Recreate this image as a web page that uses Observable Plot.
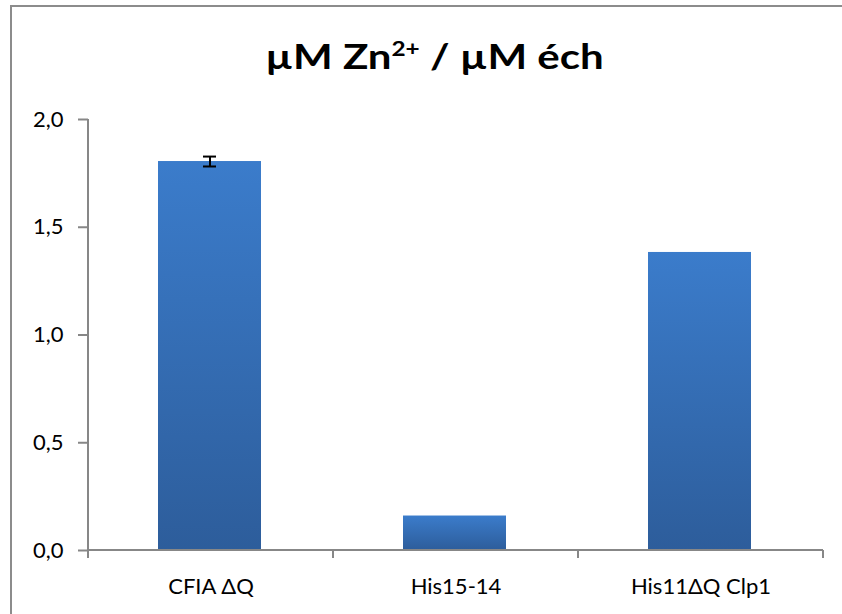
<!DOCTYPE html>
<html><head><meta charset="utf-8">
<script src="https://cdn.jsdelivr.net/npm/d3@7"></script>
<script src="https://cdn.jsdelivr.net/npm/@observablehq/plot@0.6"></script>
<style>
html,body{margin:0;padding:0;background:#fff;overflow:hidden;}
#wrap{position:relative;width:842px;height:614px;overflow:hidden;background:#fff;}
#frame{position:absolute;left:10px;top:5px;width:860px;height:640px;border-top:2px solid #8c8c8c;border-left:2px solid #8c8c8c;border-right:none;border-bottom:none;box-sizing:border-box;}
#title{position:absolute;left:0;width:869px;top:30px;text-align:center;font:bold 35px Lato, sans-serif;color:#000;line-height:50px;transform:scaleX(1.2);transform-origin:434.5px 50%;white-space:nowrap;}
#title sup{font-size:58%;vertical-align:0.62em;line-height:0;}
#chart{position:absolute;left:0;top:0;}
</style></head><body>
<div id="wrap"><div id="frame"></div><div id="chart"></div><div id="title">µM Zn<sup>2+</sup> / µM éch</div></div>
<script>
const categories = ["CFIA ΔQ", "His15-14", "His11ΔQ Clp1"];
const values = [1.805, 0.160, 1.383];
const errors = [0.023, 0, 0];
const yTicks = [0, 0.5, 1.0, 1.5, 2.0];

const data = categories.map((c, i) => ({cat: c, v: values[i], e: errors[i]}));
const withErr = data.filter(d => d.e > 0);

const W = 842, H = 614;
const mL = 88, mR = 19, mT = 119, mB = 64;
const axisColor = "#878787";

const boundaryTicks = (index, scales, values, dims) => {
  const g = d3.create("svg:g");
  const x = scales.x, y0 = scales.y(0);
  const bw = x.bandwidth();
  const xs = categories.map(c => x(c)).concat([x(categories[categories.length-1]) + bw]);
  for (const px of xs) {
    g.append("line").attr("x1", px).attr("x2", px).attr("y1", y0).attr("y2", y0 + 8)
      .attr("stroke", axisColor).attr("stroke-width", 2);
  }
  g.append("line").attr("x1", xs[0]).attr("x2", xs[xs.length-1]).attr("y1", y0).attr("y2", y0)
    .attr("stroke", axisColor).attr("stroke-width", 2);
  g.append("line").attr("x1", xs[0]).attr("x2", xs[0]).attr("y1", scales.y(2)).attr("y2", y0 + 8)
    .attr("stroke", axisColor).attr("stroke-width", 2);
  return g.node();
};

const plot = Plot.plot({
  width: W, height: H,
  marginLeft: mL, marginRight: mR, marginTop: mT, marginBottom: mB,
  style: {fontFamily: "Lato, sans-serif", fontSize: "22px", color: "#000", background: "transparent"},
  x: {domain: categories, padding: 0, label: null},
  y: {domain: [0, 2], label: null},
  marks: [
    Plot.axisY({ticks: yTicks, tickFormat: d => d3.format(".1f")(d).replace(".", ","), tickSize: 10, tickPadding: 15, stroke: axisColor, strokeWidth: 2, fontSize: 22, fill: "#000", label: null}),
    Plot.axisX({tickSize: 0, tickPadding: 28, fontSize: 22, fill: "#000", label: null}),
    Plot.barY(data, {x: "cat", y: "v", insetLeft: 70, insetRight: 72, fill: "url(#barGrad)", style: {filter: "url(#barShadow)"}}),
    Plot.ruleX(withErr, {x: "cat", y1: d => d.v - d.e, y2: d => d.v + d.e, stroke: "#000", strokeWidth: 2, dx: -1}),
    Plot.tickY(withErr, {x: "cat", y: d => d.v - d.e, stroke: "#000", strokeWidth: 2, insetLeft: 115, insetRight: 117}),
    Plot.tickY(withErr, {x: "cat", y: d => d.v + d.e, stroke: "#000", strokeWidth: 2, insetLeft: 115, insetRight: 117}),
    boundaryTicks
  ]
});

const defs = d3.select(plot).insert("defs", ":first-child");
const grad = defs.append("linearGradient").attr("id", "barGrad").attr("x1", 0).attr("y1", 0).attr("x2", 0).attr("y2", 1);
grad.append("stop").attr("offset", "0%").attr("stop-color", "#3b7ccb");
grad.append("stop").attr("offset", "100%").attr("stop-color", "#2d5d9b");
const f = defs.append("filter").attr("id", "barShadow").attr("x", "-20%").attr("y", "-20%").attr("width", "140%").attr("height", "140%");
f.append("feDropShadow").attr("dx", 0).attr("dy", 0).attr("stdDeviation", 3).attr("flood-color", "#000").attr("flood-opacity", 0.13);

document.getElementById("chart").appendChild(plot);
</script>
</body></html>
